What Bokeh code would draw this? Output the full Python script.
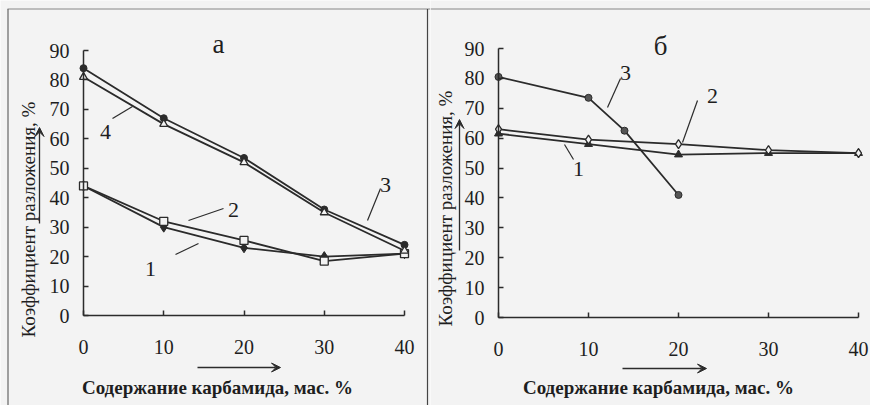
from bokeh.plotting import figure
from bokeh.models import Range1d, Label, Arrow, VeeHead, FixedTicker
from bokeh.layouts import row
from bokeh.embed import file_html
from bokeh.resources import INLINE

# ---------------- data ----------------
x_ticks = [0, 10, 20, 30, 40]
y_ticks = [0, 10, 20, 30, 40, 50, 60, 70, 80, 90]

a_x = [0, 10, 20, 30, 40]
a_curve1 = [44, 30, 23, 20, 21]
a_curve2 = [44, 32, 25.5, 18.5, 21]
a_curve3 = [84, 67, 53.5, 36, 24]
a_curve4 = [81, 65, 52, 35, 22]

b_x = [0, 10, 20, 30, 40]
b_curve1 = [61.5, 58, 54.5, 55, 55]
b_curve2 = [63, 59.5, 58, 56, 55]
b3_x = [0, 10, 14, 20]
b_curve3 = [80.5, 73.5, 62.5, 41]

x_title = "Содержание карбамида, мас. %"
y_title = "Коэффициент разложения, %"

# ---------------- style ----------------
BG = "#f3f3f3"
INK = "#2b2b2b"
FONT = "Liberation Serif"
TOP, BOTTOM = 0, 405   # page pixel extent of figures


def make_panel(left, right, tx, ty):
    """Figure whose frame covers the whole canvas (page px left..right)."""
    p = figure(width=right - left, height=BOTTOM - TOP,
               x_range=Range1d(tx(left), tx(right)),
               y_range=Range1d(ty(BOTTOM), ty(TOP)),
               output_backend="svg", toolbar_location=None,
               min_border_left=0, min_border_right=0,
               min_border_top=0, min_border_bottom=0)
    p.grid.visible = False
    p.outline_line_color = None
    p.background_fill_color = BG
    p.border_fill_color = BG
    p.xaxis.fixed_location = 0
    p.yaxis.fixed_location = 0
    p.xaxis.bounds = (0, 40)
    p.yaxis.bounds = (0, 90)
    p.xaxis.ticker = FixedTicker(ticks=x_ticks)
    p.yaxis.ticker = FixedTicker(ticks=y_ticks)
    for ax in (p.xaxis[0], p.yaxis[0]):
        ax.axis_line_color = INK
        ax.axis_line_width = 1.5
        ax.major_tick_line_color = INK
        ax.major_tick_line_width = 1.5
        ax.major_tick_in = 5
        ax.major_tick_out = 0
        ax.minor_tick_line_color = None
        ax.major_label_text_font = FONT
        ax.major_label_text_font_size = "20px"
        ax.major_label_text_color = "#1e1e1e"
    p.xaxis.major_label_standoff = 24
    p.yaxis.major_label_standoff = 14
    return p


def add_texts(p, tx, ty, title, title_xy, xlab_xy, ylab_xy, xarrow, yarrow, nums, leaders, frame):
    p.add_layout(Label(x=tx(title_xy[0]), y=ty(title_xy[1]), text=title, text_font=FONT,
                       text_font_size="27px", text_align="center", text_baseline="middle",
                       text_color="#1e1e1e"))
    p.add_layout(Label(x=tx(xlab_xy[0]), y=ty(xlab_xy[1]), text=x_title, text_font=FONT,
                       text_font_size="19px", text_font_style="bold",
                       text_align="center", text_baseline="middle", text_color="#1e1e1e"))
    p.add_layout(Label(x=tx(ylab_xy[0]), y=ty(ylab_xy[1]), text=y_title, text_font=FONT,
                       text_font_size="19px", angle=1.5708,
                       text_align="center", text_baseline="middle", text_color="#1e1e1e"))
    for (x0, y0, x1, y1) in (xarrow, yarrow):
        p.add_layout(Arrow(x_start=tx(x0), y_start=ty(y0), x_end=tx(x1), y_end=ty(y1),
                           line_color=INK, line_width=1.3,
                           end=VeeHead(size=9, fill_color=INK, line_color=INK)))
    for (s, x, y) in nums:
        p.add_layout(Label(x=tx(x), y=ty(y), text=s, text_font=FONT, text_font_size="22px",
                           text_align="center", text_baseline="middle", text_color="#1e1e1e"))
    for (x0, y0, x1, y1) in leaders:
        p.line([tx(x0), tx(x1)], [ty(y0), ty(y1)], line_color=INK, line_width=1.2)
    for (x0, y0, x1, y1, c) in frame:
        p.line([tx(x0), tx(x1)], [ty(y0), ty(y1)], line_color=c, line_width=1.2)


# ---------------- panel a ----------------
ax_ = lambda px: (px - 83) / (321 / 40)
ay_ = lambda py: (315 - py) / (265 / 90)
pa = make_panel(0, 430, ax_, ay_)

for ys in (a_curve1, a_curve2, a_curve3, a_curve4):
    pa.line(a_x, ys, line_color=INK, line_width=1.8)
pa.scatter(a_x, a_curve1, marker="diamond", size=10, fill_color=INK, line_color=INK)
pa.scatter(a_x, a_curve2, marker="square", size=8, fill_color=BG, line_color=INK, line_width=1.3)
pa.scatter(a_x, a_curve3, marker="circle", size=7, fill_color=INK, line_color=INK)
pa.scatter(a_x, a_curve4, marker="triangle", size=8, fill_color=BG, line_color=INK, line_width=1.3)

add_texts(pa, ax_, ay_, "а", (218, 43), (217, 387), (28, 219),
          (197, 367, 280, 367), (39, 223, 39, 127),
          [("4", 105, 131), ("3", 385, 184), ("2", 233, 209), ("1", 150, 268)],
          [(112, 118, 132, 106), (380, 188, 367, 220), (188, 220, 223, 208), (175, 254, 198, 243)],
          [(7, 8.5, 430, 8.5, "#888888"), (7.5, 8.5, 7.5, 405, "#666666"), (427, 8.5, 427, 405, "#444444")])

# ---------------- panel b ----------------
bx_ = lambda px: (px - 498) / (360 / 40)
by_ = lambda py: (317 - py) / (269 / 90)
pb = make_panel(430, 870, bx_, by_)

for xs, ys in ((b_x, b_curve1), (b_x, b_curve2), (b3_x, b_curve3)):
    pb.line(xs, ys, line_color=INK, line_width=1.8)
pb.scatter(b_x, b_curve1, marker="triangle", size=8, fill_color=INK, line_color=INK)
pb.scatter(b_x, b_curve2, marker="diamond", size=9, fill_color=BG, line_color=INK, line_width=1.3)
pb.scatter(b3_x, b_curve3, marker="circle", size=7, fill_color="#555555", line_color=INK)

add_texts(pb, bx_, by_, "б", (660, 45), (658, 387), (445, 208),
          (622, 368, 706, 368), (459, 250, 459, 119),
          [("3", 625, 72), ("2", 712, 95), ("1", 578, 168)],
          [(620, 78, 607, 107), (697, 100, 682, 142), (573, 159, 564, 144)],
          [(430, 8.5, 870, 8.5, "#888888")])

layout = row(pa, pb)
open("out.html", "w").write(file_html(layout, INLINE))
